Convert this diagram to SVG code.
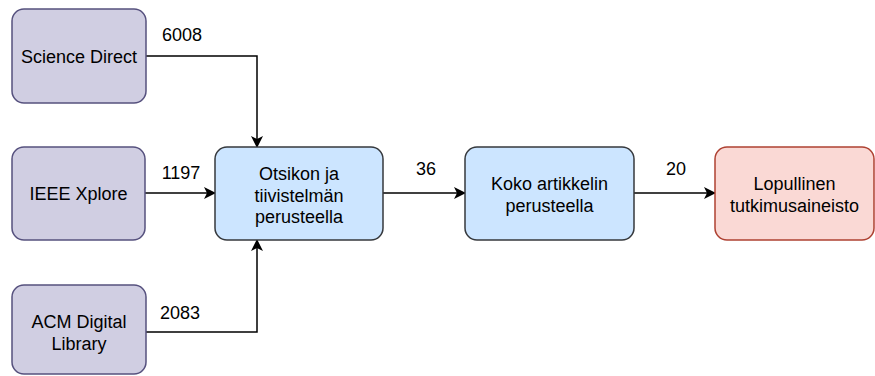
<svg xmlns="http://www.w3.org/2000/svg" width="875" height="376" viewBox="0 0 875 376">
<defs>
<marker id="arr" viewBox="0 0 12 12" refX="11" refY="6" markerWidth="12" markerHeight="12" markerUnits="userSpaceOnUse" orient="auto">
<path d="M0,0 L12,6 L0,12 L3,6 Z" fill="#000"/>
</marker>
</defs>
<style>
text{font-family:"Liberation Sans",Arial,sans-serif;font-size:18px;fill:#000;}
.c{text-anchor:middle;}
.src rect{fill:#d0cee2;stroke:#56517e;stroke-width:1.5;}
.blue rect{fill:#cce5ff;stroke:#36393d;stroke-width:1.5;}
.red rect{fill:#fad9d5;stroke:#ae4132;stroke-width:1.5;}
.edge{fill:none;stroke:#000;stroke-width:1.5;marker-end:url(#arr);}
</style>
<rect width="875" height="376" fill="#fff"/>
<g id="connectors">
<path class="edge" d="M146,56 H257 V147"/>
<path class="edge" d="M145,193 H215"/>
<path class="edge" d="M146,332 H257 V240"/>
<path class="edge" d="M383,193 H465"/>
<path class="edge" d="M634,193 H715"/>
<text x="182" y="40.5" class="c">6008</text>
<text x="181" y="178.5" class="c">1197</text>
<text x="180" y="318.5" class="c">2083</text>
<text x="426" y="174.5" class="c">36</text>
<text x="676" y="174.5" class="c">20</text>
</g>
<g id="science-direct" class="src">
<rect x="12" y="9" width="134" height="94" rx="12"/>
<text x="79" y="62.5" class="c">Science Direct</text>
</g>
<g id="ieee-xplore" class="src">
<rect x="12" y="147" width="133" height="93" rx="12"/>
<text x="78.5" y="199.5" class="c">IEEE Xplore</text>
</g>
<g id="acm" class="src">
<rect x="12" y="285" width="134" height="89" rx="12"/>
<text x="79" y="327.5" class="c">ACM Digital</text>
<text x="79" y="349.5" class="c">Library</text>
</g>
<g id="otsikon" class="blue">
<rect x="215" y="147" width="168" height="93" rx="12"/>
<text x="299" y="180" class="c">Otsikon ja</text>
<text x="299" y="201.5" class="c">tiivistelmän</text>
<text x="299" y="223" class="c">perusteella</text>
</g>
<g id="koko" class="blue">
<rect x="465" y="147" width="169" height="93" rx="12"/>
<text x="549.5" y="189.5" class="c">Koko artikkelin</text>
<text x="549.5" y="211.5" class="c">perusteella</text>
</g>
<g id="lopullinen" class="red">
<rect x="715" y="147" width="159" height="93" rx="12"/>
<text x="794.5" y="189.5" class="c">Lopullinen</text>
<text x="794.5" y="211.5" class="c">tutkimusaineisto</text>
</g>
</svg>
